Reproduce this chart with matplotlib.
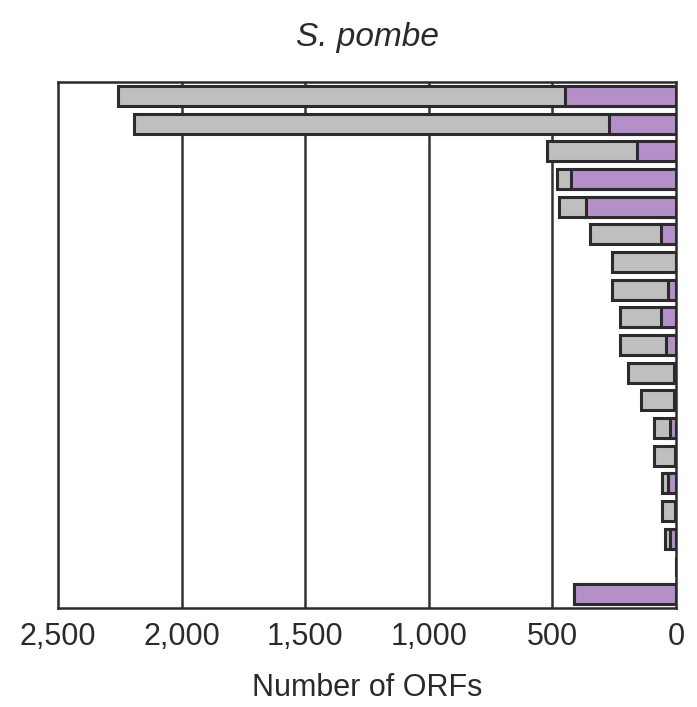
import matplotlib
matplotlib.use("Agg")
import matplotlib.pyplot as plt
import numpy as np

plt.rcParams['font.family'] = ['Liberation Sans', 'DejaVu Sans']

# Row index (top to bottom); one empty row before the last bar
rows = list(range(19))
total_orfs = [2258, 2192, 523, 481, 472, 349, 260, 260, 228, 228, 196, 142, 88, 88, 55, 56, 46, 0, 413]
purple_orfs = [448, 273, 160, 427, 364, 62, 0, 31, 62, 42, 8, 8, 24, 6, 31, 5, 24, 0, 413]
xticks = [2500, 2000, 1500, 1000, 500, 0]
xticklabels = ["2,500", "2,000", "1,500", "1,000", "500", "0"]

gray = "#bfbfbf"
purple = "#b58fc9"
edge = "#2b2b2b"
txt = "#2a2a2a"

fig = plt.figure(figsize=(6.97, 7.07), dpi=100)
ax = fig.add_axes([0.0832, 0.140, 0.8868, 0.744])

for xv in [2000, 1500, 1000, 500]:
    ax.axvline(xv, color="#333333", lw=1.8, zorder=0)

h = 0.72
ax.barh(rows, total_orfs, height=h, color=gray, edgecolor=edge, linewidth=2.2, zorder=2)
ax.barh(rows, purple_orfs, height=h, color=purple, edgecolor=edge, linewidth=2.2, zorder=3)

ax.set_xlim(2500, 0)
ax.set_ylim(18.5, -0.5)
ax.set_yticks([])
ax.set_xticks(xticks)
ax.set_xticklabels(xticklabels, fontsize=22, color=txt)
ax.tick_params(axis='x', length=0, pad=10)
for s in ax.spines.values():
    s.set_color("#2b2b2b")
    s.set_linewidth(1.8)

ax.set_xlabel("Number of ORFs", fontsize=22, color=txt, labelpad=15)
ax.set_title("S. pombe", fontsize=24, style='italic', color=txt, pad=26)

fig.savefig("out.png", dpi=100)
